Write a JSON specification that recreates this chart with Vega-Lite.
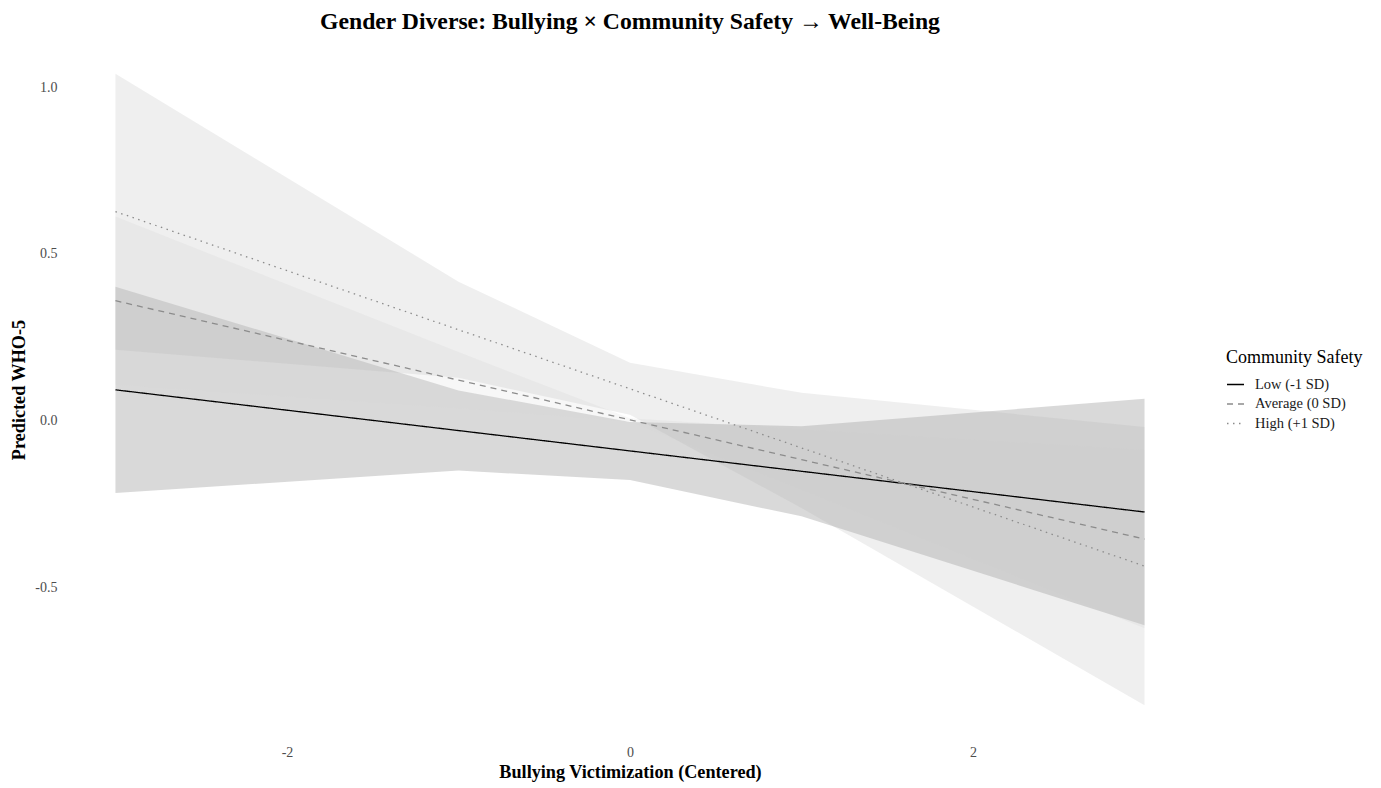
{
  "$schema": "https://vega.github.io/schema/vega-lite/v6.json",
  "autosize": {"type": "none"},
  "width": 1132,
  "height": 695,
  "padding": {"left": 64, "top": 42, "right": 185, "bottom": 51},
  "background": "white",
  "title": {
    "text": "Gender Diverse: Bullying × Community Safety → Well-Being",
    "anchor": "middle",
    "frame": "group",
    "font": "Liberation Serif",
    "fontSize": 23.7,
    "fontWeight": "bold",
    "color": "black",
    "offset": 8
  },
  "data": {
    "values": [
      {"group": "Low (-1 SD)", "x": -3, "fit": 0.093, "lower": -0.216, "upper": 0.402},
      {"group": "Low (-1 SD)", "x": -1, "fit": -0.029, "lower": -0.149, "upper": 0.091},
      {"group": "Low (-1 SD)", "x": 0, "fit": -0.090, "lower": -0.177, "upper": -0.003},
      {"group": "Low (-1 SD)", "x": 1, "fit": -0.151, "lower": -0.286, "upper": -0.016},
      {"group": "Low (-1 SD)", "x": 3, "fit": -0.273, "lower": -0.612, "upper": 0.066},
      {"group": "Average (0 SD)", "x": -3, "fit": 0.360, "lower": 0.108, "upper": 0.612},
      {"group": "Average (0 SD)", "x": -1, "fit": 0.122, "lower": 0.038, "upper": 0.206},
      {"group": "Average (0 SD)", "x": 0, "fit": 0.003, "lower": -0.002, "upper": 0.008},
      {"group": "Average (0 SD)", "x": 1, "fit": -0.116, "lower": -0.206, "upper": -0.026},
      {"group": "Average (0 SD)", "x": 3, "fit": -0.354, "lower": -0.621, "upper": -0.087},
      {"group": "High (+1 SD)", "x": -3, "fit": 0.627, "lower": 0.213, "upper": 1.040},
      {"group": "High (+1 SD)", "x": -1, "fit": 0.273, "lower": 0.129, "upper": 0.417},
      {"group": "High (+1 SD)", "x": 0, "fit": 0.096, "lower": 0.018, "upper": 0.174},
      {"group": "High (+1 SD)", "x": 1, "fit": -0.081, "lower": -0.261, "upper": 0.084},
      {"group": "High (+1 SD)", "x": 3, "fit": -0.435, "lower": -0.852, "upper": -0.018}
    ]
  },
  "encoding": {
    "x": {
      "field": "x",
      "type": "quantitative",
      "scale": {"domain": [-3.3, 3.3], "nice": false, "zero": false},
      "axis": {
        "title": "Bullying Victimization (Centered)",
        "values": [-2, 0, 2],
        "labelExpr": "replace(datum.label, '−', '-')",
        "grid": false,
        "ticks": false,
        "domain": false,
        "labelPadding": 8,
        "titlePadding": 4
      }
    },
    "y": {
      "field": "lower",
      "type": "quantitative",
      "scale": {"domain": [-0.947, 1.135], "nice": false, "zero": false},
      "axis": {
        "title": "Predicted WHO-5",
        "values": [-0.5, 0, 0.5, 1],
        "format": ".1f",
        "labelExpr": "replace(datum.label, '−', '-')",
        "grid": false,
        "ticks": false,
        "domain": false,
        "labelPadding": 7,
        "titlePadding": 6
      }
    },
    "y2": {"field": "upper"}
  },
  "layer": [
    {
      "transform": [{"filter": "datum.group === 'Low (-1 SD)'"}],
      "mark": {"type": "area", "fill": "#414141", "fillOpacity": 0.2, "strokeWidth": 0}
    },
    {
      "transform": [{"filter": "datum.group === 'Average (0 SD)'"}],
      "mark": {"type": "area", "fill": "#d7d7d7", "fillOpacity": 0.2, "strokeWidth": 0}
    },
    {
      "transform": [{"filter": "datum.group === 'High (+1 SD)'"}],
      "mark": {"type": "area", "fill": "#afafaf", "fillOpacity": 0.2, "strokeWidth": 0}
    },
    {
      "mark": {"type": "line", "strokeWidth": 1.3},
      "encoding": {
        "y": {"field": "fit", "type": "quantitative"},
        "y2": null,
        "stroke": {
          "field": "group",
          "type": "nominal",
          "scale": {
            "domain": ["Low (-1 SD)", "Average (0 SD)", "High (+1 SD)"],
            "range": ["#000000", "#8c8c8c", "#8c8c8c"]
          },
          "legend": {
            "title": "Community Safety",
            "orient": "none",
            "legendX": 1162,
            "legendY": 307
          }
        },
        "strokeDash": {
          "field": "group",
          "type": "nominal",
          "scale": {
            "domain": ["Low (-1 SD)", "Average (0 SD)", "High (+1 SD)"],
            "range": [[1, 0], [6, 5], [1.5, 4.5]]
          },
          "legend": {
            "title": "Community Safety",
            "orient": "none",
            "legendX": 1162,
            "legendY": 307
          }
        }
      }
    }
  ],
  "config": {
    "view": {"stroke": null},
    "axis": {
      "labelFont": "Liberation Serif",
      "labelFontSize": 14,
      "labelColor": "#4d4d4d",
      "titleFont": "Liberation Serif",
      "titleFontSize": 18.2,
      "titleFontWeight": "bold",
      "titleColor": "black"
    },
    "legend": {
      "titleFont": "Liberation Serif",
      "titleFontSize": 18,
      "titleFontWeight": "normal",
      "titleColor": "black",
      "labelFont": "Liberation Serif",
      "labelFontSize": 14.5,
      "labelColor": "#1a1a1a",
      "symbolType": "stroke",
      "symbolSize": 289,
      "symbolStrokeWidth": 1.5,
      "labelOffset": 10,
      "rowPadding": 3.5,
      "titlePadding": 8,
      "padding": 0
    }
  }
}
